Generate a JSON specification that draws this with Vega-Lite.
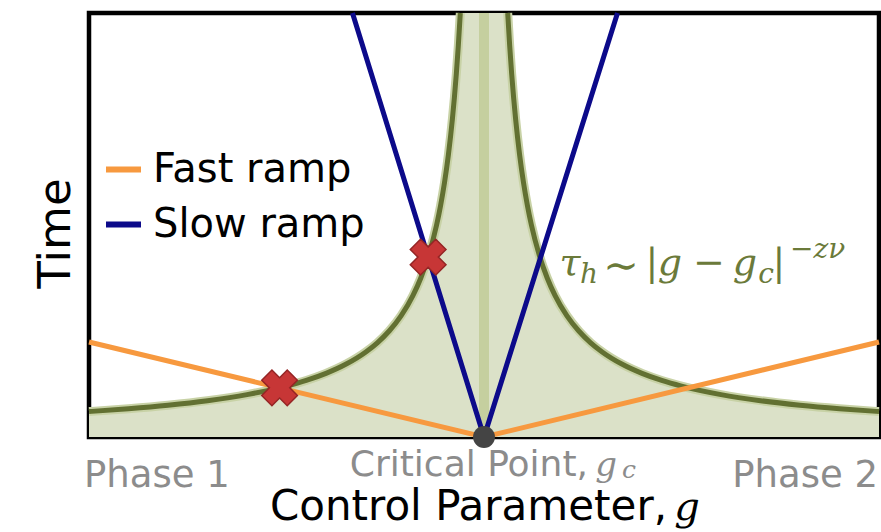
{
  "$schema": "https://vega.github.io/schema/vega-lite/v6.json",
  "width": 790,
  "height": 424,
  "autosize": {"type": "none"},
  "padding": {"left": 89, "top": 13, "right": 2, "bottom": 95},
  "background": "white",
  "config": {"view": {"stroke": "#000000", "strokeWidth": 4.5}},
  "datasets": {
    "curve": [
      {"g": -1, "tau": 0.06, "branch": "L"}, {"g": -0.9, "tau": 0.0667, "branch": "L"}, {"g": -0.8, "tau": 0.075, "branch": "L"},
      {"g": -0.7, "tau": 0.0857, "branch": "L"}, {"g": -0.6, "tau": 0.1, "branch": "L"}, {"g": -0.5, "tau": 0.12, "branch": "L"},
      {"g": -0.45, "tau": 0.1333, "branch": "L"}, {"g": -0.4, "tau": 0.15, "branch": "L"}, {"g": -0.35, "tau": 0.1714, "branch": "L"},
      {"g": -0.3, "tau": 0.2, "branch": "L"}, {"g": -0.27, "tau": 0.2222, "branch": "L"}, {"g": -0.24, "tau": 0.25, "branch": "L"},
      {"g": -0.21, "tau": 0.2857, "branch": "L"}, {"g": -0.18, "tau": 0.3333, "branch": "L"}, {"g": -0.16, "tau": 0.375, "branch": "L"},
      {"g": -0.14, "tau": 0.4286, "branch": "L"}, {"g": -0.12, "tau": 0.5, "branch": "L"}, {"g": -0.11, "tau": 0.5455, "branch": "L"},
      {"g": -0.1, "tau": 0.6, "branch": "L"}, {"g": -0.09, "tau": 0.6667, "branch": "L"}, {"g": -0.08, "tau": 0.75, "branch": "L"},
      {"g": -0.075, "tau": 0.8, "branch": "L"}, {"g": -0.07, "tau": 0.8571, "branch": "L"}, {"g": -0.065, "tau": 0.9231, "branch": "L"},
      {"g": -0.06, "tau": 1.0, "branch": "L"},
      {"g": 0.06, "tau": 1.0, "branch": "R"}, {"g": 0.065, "tau": 0.9231, "branch": "R"}, {"g": 0.07, "tau": 0.8571, "branch": "R"},
      {"g": 0.075, "tau": 0.8, "branch": "R"}, {"g": 0.08, "tau": 0.75, "branch": "R"}, {"g": 0.09, "tau": 0.6667, "branch": "R"},
      {"g": 0.1, "tau": 0.6, "branch": "R"}, {"g": 0.11, "tau": 0.5455, "branch": "R"}, {"g": 0.12, "tau": 0.5, "branch": "R"},
      {"g": 0.14, "tau": 0.4286, "branch": "R"}, {"g": 0.16, "tau": 0.375, "branch": "R"}, {"g": 0.18, "tau": 0.3333, "branch": "R"},
      {"g": 0.21, "tau": 0.2857, "branch": "R"}, {"g": 0.24, "tau": 0.25, "branch": "R"}, {"g": 0.27, "tau": 0.2222, "branch": "R"},
      {"g": 0.3, "tau": 0.2, "branch": "R"}, {"g": 0.35, "tau": 0.1714, "branch": "R"}, {"g": 0.4, "tau": 0.15, "branch": "R"},
      {"g": 0.45, "tau": 0.1333, "branch": "R"}, {"g": 0.5, "tau": 0.12, "branch": "R"}, {"g": 0.6, "tau": 0.1, "branch": "R"},
      {"g": 0.7, "tau": 0.0857, "branch": "R"}, {"g": 0.8, "tau": 0.075, "branch": "R"}, {"g": 0.9, "tau": 0.0667, "branch": "R"},
      {"g": 1, "tau": 0.06, "branch": "R"}
    ],
    "ramps": [
      {"g": -1, "tau": 0.224, "ramp": "Fast ramp"}, {"g": 0, "tau": 0, "ramp": "Fast ramp"}, {"g": 1, "tau": 0.224, "ramp": "Fast ramp"},
      {"g": -0.333, "tau": 1, "ramp": "Slow ramp"}, {"g": 0, "tau": 0, "ramp": "Slow ramp"}, {"g": 0.338, "tau": 1, "ramp": "Slow ramp"}
    ],
    "crosses": [
      {"g": -0.5175, "tau": 0.1159},
      {"g": -0.1414, "tau": 0.4243}
    ],
    "critical": [{"g": 0, "tau": 0}]
  },
  "encoding": {
    "x": {"field": "g", "type": "quantitative", "scale": {"domain": [-1, 1], "nice": false, "zero": false}, "axis": null},
    "y": {"field": "tau", "type": "quantitative", "scale": {"domain": [0, 1], "nice": false, "zero": false}, "axis": null}
  },
  "layer": [
    {"data": {"name": "curve"}, "mark": {"type": "area", "interpolate": "monotone", "fill": "#dbe1c8", "opacity": 1}},
    {"data": {"name": "critical"}, "mark": {"type": "rule", "stroke": "#c5cf9f", "strokeWidth": 10}, "encoding": {"x": {"field": "g", "type": "quantitative"}, "y": null}},
    {"data": {"name": "curve"}, "mark": {"type": "line", "interpolate": "monotone", "stroke": "#c8d2a6", "strokeWidth": 9}, "encoding": {"detail": {"field": "branch"}}},
    {"data": {"name": "curve"}, "mark": {"type": "line", "interpolate": "monotone", "stroke": "#627032", "strokeWidth": 5}, "encoding": {"detail": {"field": "branch"}}},
    {"data": {"name": "ramps"}, "mark": {"type": "line", "strokeWidth": 5},
      "encoding": {"color": {"field": "ramp", "type": "nominal",
        "scale": {"domain": ["Fast ramp", "Slow ramp"], "range": ["#f7993f", "#0c0a8a"]},
        "legend": {"orient": "none", "legendX": 14, "legendY": 136, "title": null, "symbolType": "stroke", "symbolSize": 1225, "symbolStrokeWidth": 6,
          "labelFontSize": 40, "labelFont": "DejaVu Sans", "labelColor": "#000000", "labelOffset": 9, "labelLimit": 500, "rowPadding": 14, "padding": 0}}}},
    {"data": {"name": "crosses"}, "mark": {"type": "point", "shape": "cross", "angle": 45, "size": 1300, "filled": true, "fill": "#c73636", "stroke": "#952525", "strokeWidth": 1.5, "opacity": 1}},
    {"data": {"name": "critical"}, "mark": {"type": "point", "shape": "circle", "size": 480, "filled": true, "fill": "#444444", "opacity": 1, "clip": false}},
    {"data": {"values": [{"g": -1.0127, "tau": -0.1179, "label": "Phase 1"}]}, "mark": {"type": "text", "align": "left", "baseline": "alphabetic", "font": "DejaVu Sans", "fontSize": 37, "color": "#8c8c8c"}, "encoding": {"text": {"field": "label"}}},
    {"data": {"values": [{"g": 0.9975, "tau": -0.1179, "label": "Phase 2"}]}, "mark": {"type": "text", "align": "right", "baseline": "alphabetic", "font": "DejaVu Sans", "fontSize": 37, "color": "#8c8c8c"}, "encoding": {"text": {"field": "label"}}},
    {"data": {"values": [{"g": 0.2633, "tau": -0.092, "label": "Critical Point,"}]}, "mark": {"type": "text", "align": "right", "baseline": "alphabetic", "font": "DejaVu Sans", "fontSize": 36, "color": "#8c8c8c"}, "encoding": {"text": {"field": "label"}}},
    {"data": {"values": [{"g": 0.3089, "tau": -0.092, "label": "g"}]}, "mark": {"type": "text", "align": "center", "baseline": "alphabetic", "font": "DejaVu Serif", "fontStyle": "italic", "fontSize": 34, "color": "#8c8c8c"}, "encoding": {"text": {"field": "label"}}},
    {"data": {"values": [{"g": 0.3671, "tau": -0.0967, "label": "c"}]}, "mark": {"type": "text", "align": "center", "baseline": "alphabetic", "font": "DejaVu Serif", "fontStyle": "italic", "fontSize": 25, "color": "#8c8c8c"}, "encoding": {"text": {"field": "label"}}},
    {"data": {"values": [{"g": 0.4633, "tau": -0.1958, "label": "Control Parameter,"}]}, "mark": {"type": "text", "align": "right", "baseline": "alphabetic", "font": "DejaVu Sans", "fontSize": 42, "color": "#000000"}, "encoding": {"text": {"field": "label"}}},
    {"data": {"values": [{"g": 0.5139, "tau": -0.1958, "label": "g"}]}, "mark": {"type": "text", "align": "center", "baseline": "alphabetic", "font": "DejaVu Serif", "fontStyle": "italic", "fontSize": 40, "color": "#000000"}, "encoding": {"text": {"field": "label"}}},
    {"data": {"values": [{"g": -1.0481, "tau": 0.48, "label": "Time"}]}, "mark": {"type": "text", "align": "center", "baseline": "alphabetic", "angle": 270, "font": "DejaVu Sans", "fontSize": 45, "color": "#000000"}, "encoding": {"text": {"field": "label"}}},
    {"data": {"values": [{"g": 0.2177, "tau": 0.3821, "label": "τ"}, {"g": 0.4709, "tau": 0.3821, "label": "g"}, {"g": 0.6608, "tau": 0.3821, "label": "g"}]},
      "mark": {"type": "text", "align": "center", "baseline": "alphabetic", "font": "DejaVu Serif", "fontStyle": "italic", "fontSize": 38, "color": "#6b7a3a"}, "encoding": {"text": {"field": "label"}}},
    {"data": {"values": [{"g": 0.4253, "tau": 0.3821, "label": "|"}, {"g": 0.5696, "tau": 0.3821, "label": "−"}, {"g": 0.7468, "tau": 0.3821, "label": "|"}]},
      "mark": {"type": "text", "align": "center", "baseline": "alphabetic", "font": "DejaVu Serif", "fontSize": 38, "color": "#6b7a3a"}, "encoding": {"text": {"field": "label"}}},
    {"data": {"values": [{"g": 0.3468, "tau": 0.3703, "label": "∼"}]},
      "mark": {"type": "text", "align": "center", "baseline": "alphabetic", "font": "DejaVu Serif", "fontSize": 43, "color": "#6b7a3a"}, "encoding": {"text": {"field": "label"}}},
    {"data": {"values": [{"g": 0.2658, "tau": 0.3632, "label": "h"}, {"g": 0.7139, "tau": 0.3632, "label": "c"}]},
      "mark": {"type": "text", "align": "center", "baseline": "alphabetic", "font": "DejaVu Serif", "fontStyle": "italic", "fontSize": 28, "color": "#6b7a3a"}, "encoding": {"text": {"field": "label"}}},
    {"data": {"values": [{"g": 0.7747, "tau": 0.4222, "label": "−zν"}]},
      "mark": {"type": "text", "align": "left", "baseline": "alphabetic", "font": "DejaVu Serif", "fontStyle": "italic", "fontSize": 28, "color": "#6b7a3a"}, "encoding": {"text": {"field": "label"}}}
  ]
}
